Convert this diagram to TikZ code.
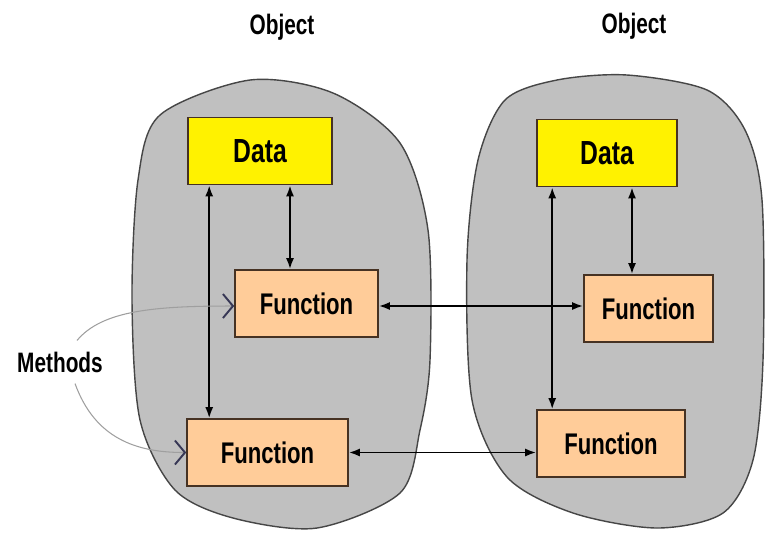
\documentclass[tikz,border=0pt]{standalone}
\usepackage{fontspec}
\usepackage{tikz}
\usetikzlibrary{arrows.meta,positioning}
\newfontfamily\narrowsf{Liberation Sans}[FakeStretch=0.74]
\definecolor{blobgray}{RGB}{192,192,192}
\definecolor{blobline}{RGB}{70,70,70}
\definecolor{peach}{RGB}{255,204,153}
\definecolor{boxline}{RGB}{70,50,35}
\definecolor{tipslate}{RGB}{55,55,85}

\begin{document}
\begin{tikzpicture}[
  every node/.style={font=\narrowsf\bfseries},
  blob/.style={draw=blobline, line width=0.8pt, fill=blobgray},
  databox/.style={draw=boxline, line width=0.9pt, fill=yellow, minimum height=1.34cm, inner sep=0pt, font=\narrowsf\bfseries\fontsize{19}{21}\selectfont},
  funcbox/.style={draw=boxline, line width=0.9pt, fill=peach, minimum height=1.34cm, inner sep=0pt, font=\narrowsf\bfseries\fontsize{17}{19}\selectfont},
  lbl/.style={font=\narrowsf\bfseries\fontsize{16}{18}\selectfont},
  link/.style={line width=1.1pt, {Latex[length=2.2mm,width=1.6mm]}-{Latex[length=2.2mm,width=1.6mm]}},
  method/.style={draw=gray!75, line width=0.6pt, -{Straight Barb[length=2mm,width=4.8mm,color=tipslate,line width=1.1pt]}},
]
\useasboundingbox (0,0) rectangle (15.34,-10.64);

\draw[blob] plot[smooth cycle] coordinates {(5.00,-1.60) (6.66,-1.86) (8.00,-2.86) (8.56,-4.60) (8.60,-7.20) (8.40,-8.60) (8.00,-9.86) (6.34,-10.56) (4.66,-10.36) (3.50,-9.80) (2.80,-8.40) (2.64,-6.00) (2.76,-3.60) (3.20,-2.30)};
\draw[blob] plot[smooth cycle] coordinates {(12.54,-1.50) (14.14,-1.80) (14.90,-2.60) (15.24,-4.00) (15.26,-7.20) (15.06,-9.20) (14.46,-10.26) (13.14,-10.56) (11.46,-10.26) (10.14,-9.54) (9.44,-8.00) (9.34,-5.20) (9.56,-3.20) (10.10,-2.00) (11.14,-1.60)};

\node[lbl] (objL) at (5.64,-0.54) {Object};
\node[lbl] (objR) at (12.68,-0.52) {Object};
\node[lbl] (methods) at (1.20,-7.24) {Methods};

\node[databox, minimum width=2.88cm] (dataL) at (5.20,-3.02) {Data};
\node[funcbox, minimum width=2.86cm] (funcLa) at (6.13,-6.07) {Function};
\node[funcbox, minimum width=3.22cm] (funcLb) at (5.35,-9.05) {Function};
\node[databox, minimum width=2.80cm] (dataR) at (12.14,-3.06) {Data};
\node[funcbox, minimum width=2.58cm] (funcRa) at (12.97,-6.17) {Function};
\node[funcbox, minimum width=2.96cm] (funcRb) at (12.22,-8.87) {Function};

\draw[link] ([xshift=4.4mm]dataL.south west) -- ([xshift=4.4mm]dataL.south west |- funcLb.north);
\draw[link] ([xshift=-3.3mm]funcLa.north |- dataL.south) -- ([xshift=-3.3mm]funcLa.north);
\draw[link] ([xshift=3.2mm]dataR.south west) -- ([xshift=3.2mm]dataR.south west |- funcRb.north);
\draw[link] ([xshift=-3.3mm]funcRa.north |- dataR.south) -- ([xshift=-3.3mm]funcRa.north);
\draw[link] ([yshift=-0.5mm]funcLa.east) -- ([yshift=-0.5mm]funcLa.east -| funcRa.west);
\draw[link] (funcLb.east) -- (funcLb.east -| funcRb.west);

\draw[method] ([xshift=3.4mm,yshift=1mm]methods.north) .. controls +(0.5,0.6) and +(-1.6,0) .. ([yshift=-0.5mm]funcLa.west);
\draw[method] ([xshift=3mm,yshift=-1mm]methods.south) .. controls +(0.4,-1.1) and +(-1.0,0) .. (funcLb.west);
\end{tikzpicture}
\end{document}
